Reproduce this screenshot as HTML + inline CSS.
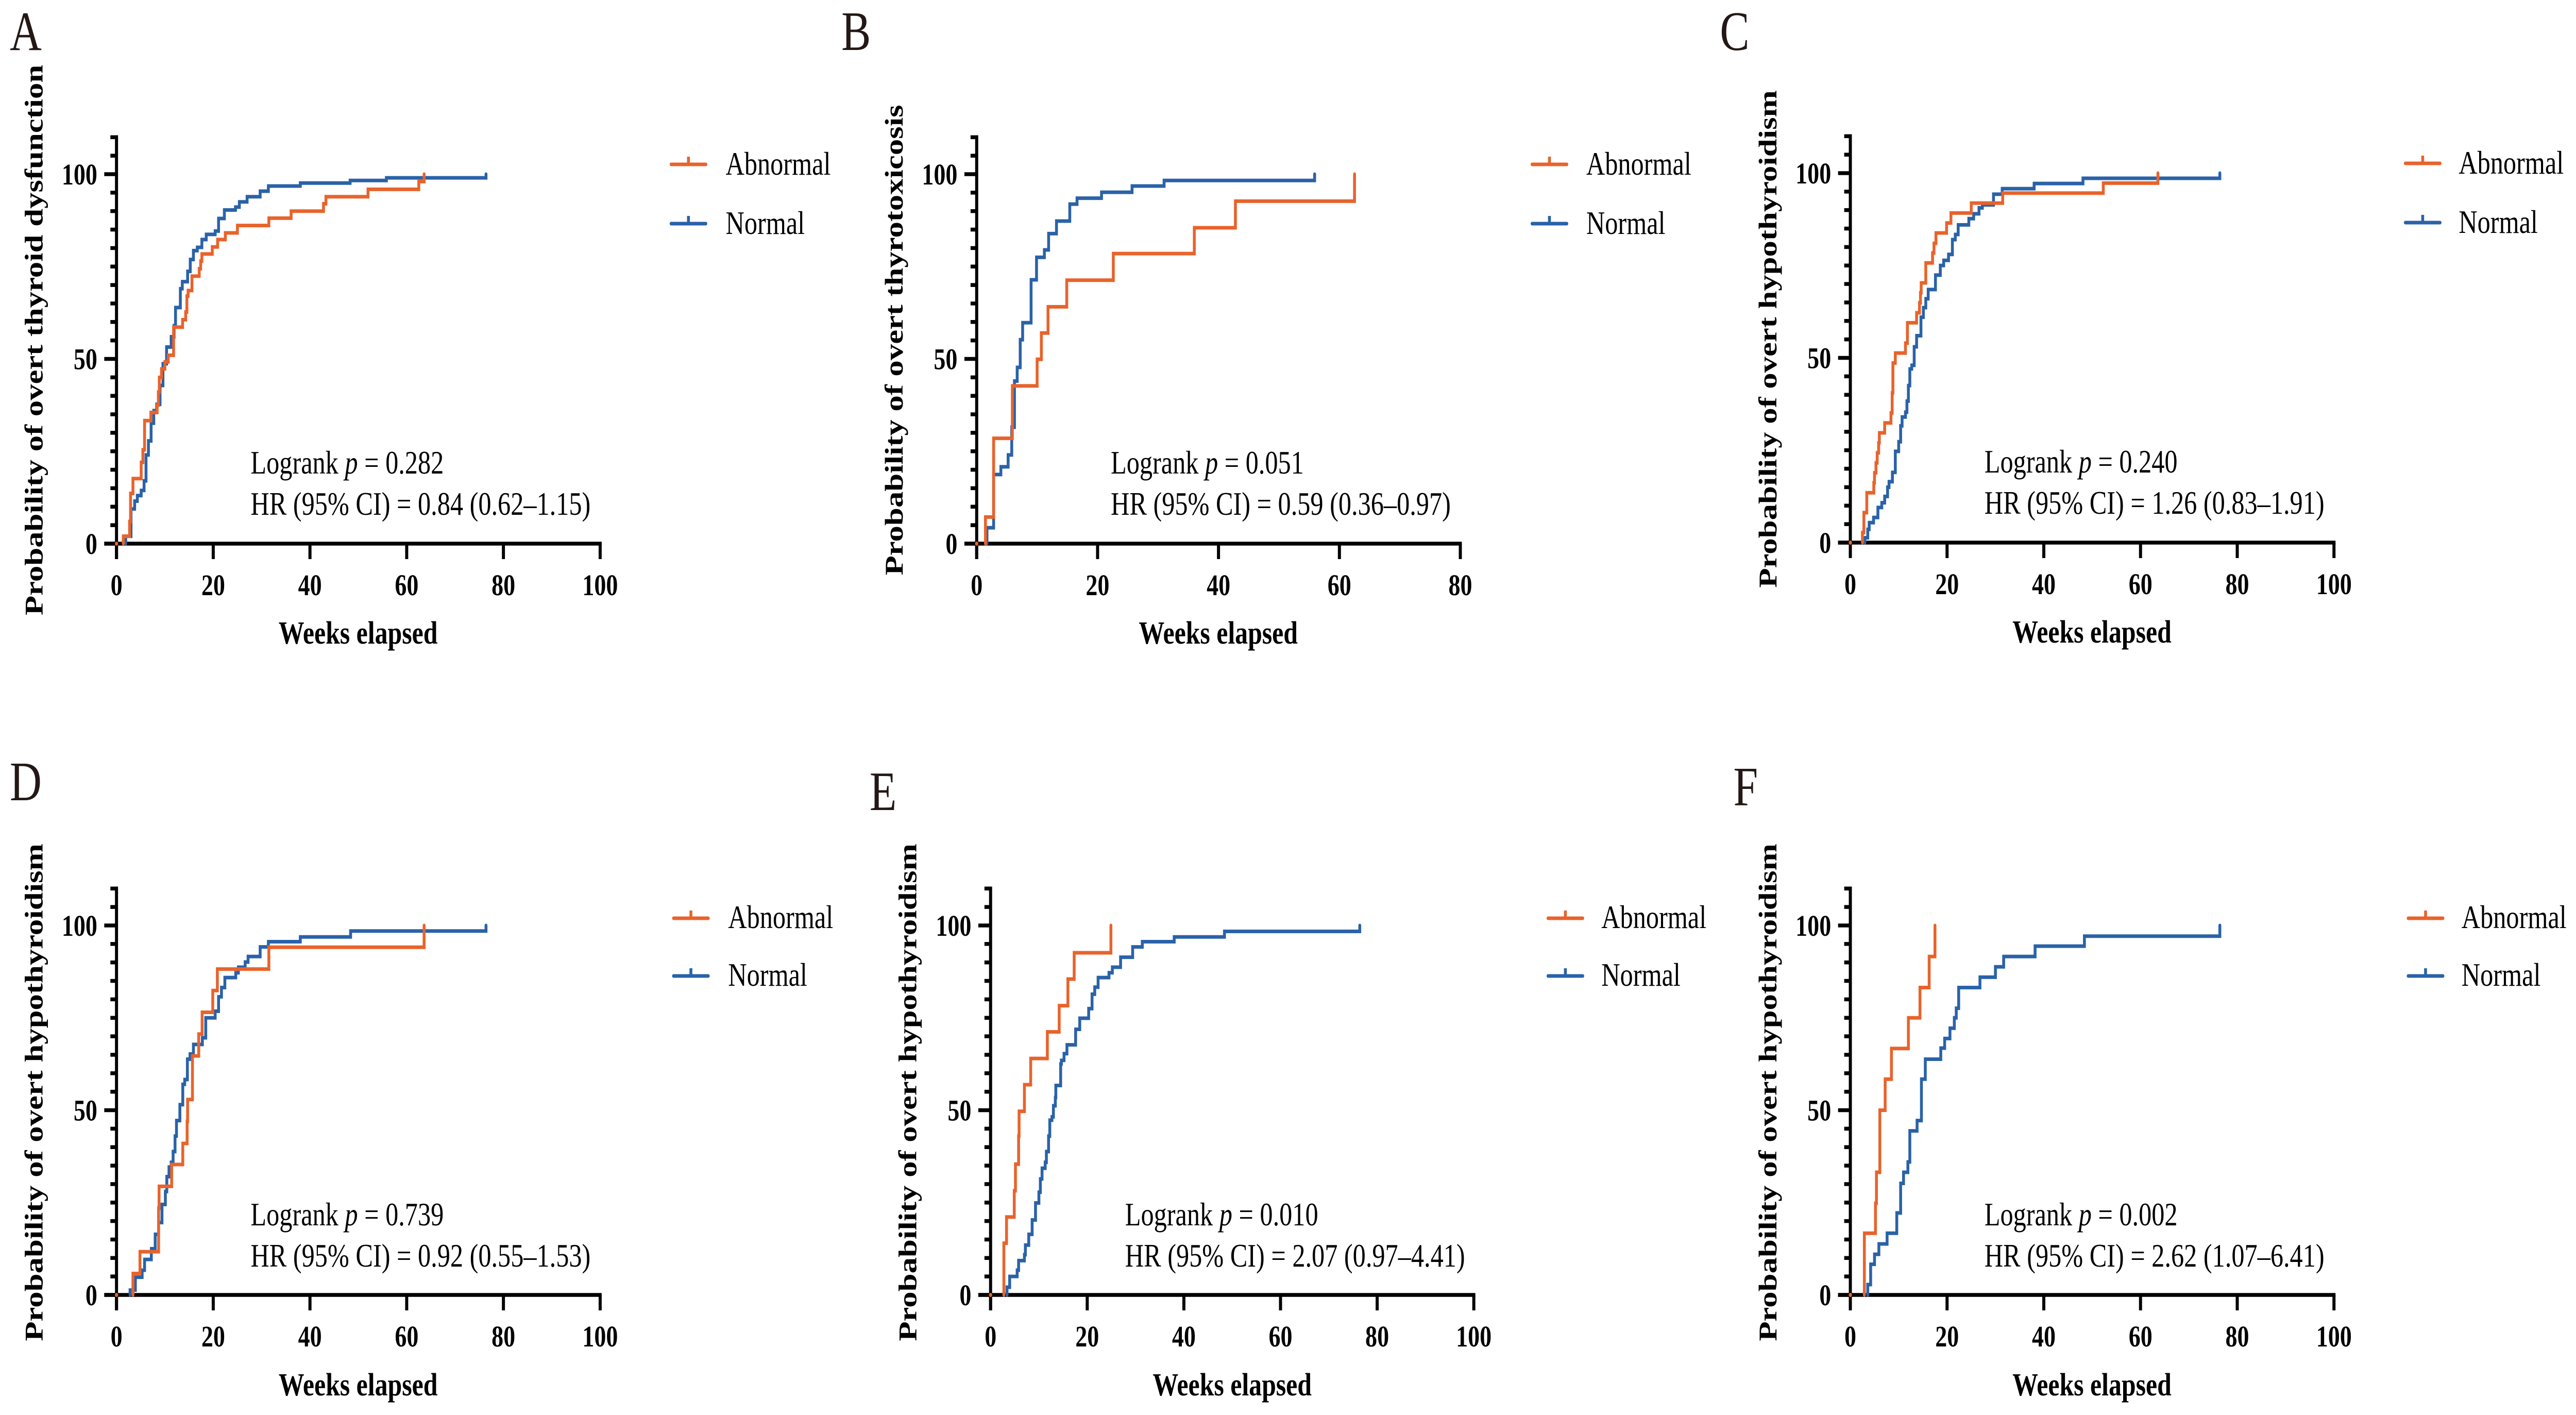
<!DOCTYPE html>
<html lang="en">
<head>
<meta charset="utf-8">
<title>Cumulative probability of overt thyroid dysfunction</title>
<style>
html,body{margin:0;padding:0;background:#fff;width:100%;height:100%;overflow:hidden;}
svg{display:block;width:100vw;height:100vh;}
text{font-family:"Liberation Serif","Noto Serif CJK SC",serif;fill:#000;}
.letter{font-size:108px;fill:#231815;}
.ytitle,.xtitle{font-size:62.8px;font-weight:bold;}
.note,.legtext{font-size:63.4px;}
.note tspan{font-style:italic;}
</style>
</head>
<body>
<svg id="figure" xmlns="http://www.w3.org/2000/svg" viewBox="0 0 6301 2746" preserveAspectRatio="none">
<rect width="6301" height="2746" fill="#fff"/>

<g id="panel-a">
<text class="letter" x="24" y="97">A</text>
<text class="ytitle" text-anchor="middle" transform="translate(104 660) rotate(-90)">Probability of overt thyroid dysfunction</text>
<text class="xtitle" text-anchor="middle" x="876" y="1249">Weeks elapsed</text>
<text class="note" x="613" y="919">Logrank <tspan>p</tspan> = 0.282</text>
<text class="note" x="613" y="999">HR (95% CI) = 0.84 (0.62–1.15)</text>
<text class="legtext" x="1775" y="339">Abnormal</text>
<text class="legtext" x="1775" y="454">Normal</text>
</g>

<g id="panel-b">
<text class="letter" x="2058" y="97">B</text>
<text class="ytitle" text-anchor="middle" transform="translate(2208 660) rotate(-90)">Probability of overt thyrotoxicosis</text>
<text class="xtitle" text-anchor="middle" x="2980" y="1249">Weeks elapsed</text>
<text class="note" x="2717" y="919">Logrank <tspan>p</tspan> = 0.051</text>
<text class="note" x="2717" y="999">HR (95% CI) = 0.59 (0.36–0.97)</text>
<text class="legtext" x="3880" y="339">Abnormal</text>
<text class="legtext" x="3880" y="454">Normal</text>
</g>

<g id="panel-c">
<text class="letter" x="4207" y="97">C</text>
<text class="ytitle" text-anchor="middle" transform="translate(4345 658) rotate(-90)">Probability of overt hypothyroidism</text>
<text class="xtitle" text-anchor="middle" x="5117" y="1247">Weeks elapsed</text>
<text class="note" x="4854" y="917">Logrank <tspan>p</tspan> = 0.240</text>
<text class="note" x="4854" y="997">HR (95% CI) = 1.26 (0.83–1.91)</text>
<text class="legtext" x="6014" y="337">Abnormal</text>
<text class="legtext" x="6014" y="452">Normal</text>
</g>

<g id="panel-d">
<text class="letter" x="24" y="1553">D</text>
<text class="ytitle" text-anchor="middle" transform="translate(104 2120) rotate(-90)">Probability of overt hypothyroidism</text>
<text class="xtitle" text-anchor="middle" x="876" y="2708">Weeks elapsed</text>
<text class="note" x="613" y="2378">Logrank <tspan>p</tspan> = 0.739</text>
<text class="note" x="613" y="2458">HR (95% CI) = 0.92 (0.55–1.53)</text>
<text class="legtext" x="1781" y="1801">Abnormal</text>
<text class="legtext" x="1781" y="1913">Normal</text>
</g>

<g id="panel-e">
<text class="letter" x="2127" y="1572">E</text>
<text class="ytitle" text-anchor="middle" transform="translate(2241 2120) rotate(-90)">Probability of overt hypothyroidism</text>
<text class="xtitle" text-anchor="middle" x="3014" y="2708">Weeks elapsed</text>
<text class="note" x="2752" y="2378">Logrank <tspan>p</tspan> = 0.010</text>
<text class="note" x="2752" y="2458">HR (95% CI) = 2.07 (0.97–4.41)</text>
<text class="legtext" x="3917" y="1801">Abnormal</text>
<text class="legtext" x="3917" y="1913">Normal</text>
</g>

<g id="panel-f">
<text class="letter" x="4240" y="1563">F</text>
<text class="ytitle" text-anchor="middle" transform="translate(4345 2120) rotate(-90)">Probability of overt hypothyroidism</text>
<text class="xtitle" text-anchor="middle" x="5117" y="2708">Weeks elapsed</text>
<text class="note" x="4854" y="2378">Logrank <tspan>p</tspan> = 0.002</text>
<text class="note" x="4854" y="2458">HR (95% CI) = 2.62 (1.07–6.41)</text>
<text class="legtext" x="6021" y="1801">Abnormal</text>
<text class="legtext" x="6021" y="1913">Normal</text>
</g>
</svg>

<script>
/* Tick labels */
const yTickLabels = [0, 50, 100];
const xTickLabels100 = [0, 20, 40, 60, 80, 100];
const xTickLabels80 = [0, 20, 40, 60, 80];

/* Panel A */
const aAbnormalWeeks = [0, 1.4, 2.7, 2.9, 3.4, 5.1, 5.45, 5.8, 7.1, 8.4, 8.65, 8.85, 9.3, 10, 10.7, 11.8, 13.66, 14.3, 14.55, 14.8, 15.6, 17.1, 17.4, 17.65, 19.8, 20.9, 22.5, 25, 31.5, 36.1, 42.8, 43.3, 52, 62.5, 63.6];
const aAbnormalProb = [0, 2, 6, 13.6, 17.6, 22, 25.4, 33.3, 35.5, 37.5, 41, 45, 47.3, 49.2, 51, 58.6, 60.6, 62.7, 67, 68.5, 72.4, 74.4, 76.5, 78.4, 80.3, 82.3, 84.1, 86.1, 88.1, 90, 92, 93.9, 95.9, 98, 100];
const aNormalWeeks = [0, 1.9, 3, 3.75, 4.3, 5.1, 5.7, 6.1, 6.6, 7.15, 7.7, 8.3, 9, 9.6, 10.35, 11.3, 11.9, 12.2, 13.2, 13.6, 14.7, 15.25, 15.9, 16.7, 17.65, 18.55, 20.4, 21.1, 22.3, 24.6, 25.4, 27, 29.7, 31.4, 38, 48.3, 55.8, 76.4];
const aNormalProb = [0, 2, 9.4, 11.5, 13, 14.4, 17, 24, 27.8, 32.6, 36, 37.7, 42.8, 48.7, 53.2, 56, 59, 63.9, 69, 70.9, 73.7, 76.9, 79.3, 80.2, 82.3, 83.7, 84.6, 88, 90.3, 91.1, 92.5, 93.9, 95.4, 96.8, 97.6, 98.3, 99, 100];

/* Panel B */
const bAbnormalWeeks = [0, 1.45, 2.8, 5.9, 10, 10.7, 11.8, 14.9, 22.6, 36, 42.8, 62.5];
const bAbnormalProb = [0, 7.2, 28.5, 42.7, 49.9, 57, 64.1, 71.3, 78.5, 85.5, 92.7, 100];
const bNormalWeeks = [0, 1.7, 2.8, 4, 5.2, 5.8, 6.25, 6.7, 7.2, 7.6, 9, 9.9, 11.2, 11.9, 13.2, 15.4, 16.6, 20.65, 25.7, 31, 55.9];
const bNormalProb = [0, 4.3, 18.7, 20.8, 24, 31.5, 44, 47.7, 55.2, 59.8, 71.4, 77.5, 79.5, 83.9, 87.3, 91.9, 93.5, 95.1, 96.8, 98.3, 100];

/* Panel C */
const cAbnormalWeeks = [0, 2.5, 2.8, 3.4, 4.85, 5, 5.3, 5.55, 5.85, 6, 7.1, 8.4, 8.65, 8.8, 9.3, 11.4, 11.8, 13.7, 14.3, 14.5, 14.65, 15.6, 17, 17.3, 17.7, 19.9, 20.8, 25, 31.5, 52.3, 63.6];
const cAbnormalProb = [0, 2.7, 8.1, 13.5, 16.2, 18.9, 21.6, 24.3, 27, 29.7, 32.4, 35.1, 40.5, 48.6, 51.3, 54, 59.5, 62.2, 64.9, 67.6, 70.3, 75.7, 78.4, 81, 83.8, 86.5, 89.2, 91.9, 94.6, 97.3, 100];
const cNormalWeeks = [0, 3, 3.6, 3.9, 4.8, 5.7, 6.5, 7.1, 7.7, 8, 8.7, 9.3, 10, 10.4, 10.7, 11.4, 11.7, 12, 12.3, 12.7, 13.2, 13.7, 14.6, 15.1, 15.6, 16.1, 17.6, 18.6, 19.3, 20.3, 21.1, 21.7, 22.3, 24.5, 25.5, 26.6, 27.3, 29.6, 31.4, 38, 48.1, 76.4];
const cNormalProb = [0, 1.3, 3.6, 5.4, 6.8, 9.5, 10.8, 12.5, 15, 16.5, 19, 24.7, 27.3, 31.6, 34, 35.3, 38.3, 42.5, 47, 48, 53, 56, 61, 63.6, 66, 68.5, 72.4, 75, 76.4, 78, 82, 83.4, 86, 87.7, 89, 90.6, 91.4, 94.3, 95.8, 97.2, 98.6, 100];

/* Panel D */
const dAbnormalWeeks = [0, 3.4, 4.85, 8.7, 8.8, 11.4, 13.7, 14.6, 14.7, 15.7, 17, 17.7, 19.9, 20.85, 31.5, 63.6];
const dAbnormalProb = [0, 5.8, 11.7, 23.5, 29.4, 35.3, 41, 47, 52.9, 64.7, 70.6, 76.5, 82.4, 88.2, 94.1, 100];
const dNormalWeeks = [0, 2.8, 3.9, 5.3, 5.8, 7.2, 8, 8.7, 9.4, 10.1, 10.4, 10.85, 11.3, 11.7, 12.1, 12.4, 13.1, 13.7, 14.1, 14.65, 15.2, 15.9, 17.75, 18.45, 20.4, 21.1, 21.7, 22.4, 24.65, 25.2, 26.6, 27.2, 29.7, 31.4, 38, 48.4, 76.4];
const dNormalProb = [0, 1.3, 4.8, 6.7, 9.6, 12.5, 16.4, 19.6, 24.5, 28, 32, 34.6, 35.9, 38.8, 43, 47.2, 51.5, 57, 58.3, 63.8, 65.2, 67.8, 69.6, 75, 76.8, 80.7, 83.2, 85.9, 87.2, 88.7, 90.1, 91.6, 94.2, 95.6, 96.9, 98.5, 100];

/* Panel E */
const eAbnormalWeeks = [0, 2.75, 3.3, 4.9, 5.15, 5.8, 5.9, 7, 8.3, 11.75, 14.2, 16, 17.3, 24.9];
const eAbnormalProb = [0, 14, 21.1, 28.2, 35.4, 43, 49.7, 56.9, 64, 71.2, 78.3, 85.5, 92.6, 100];
const eNormalWeeks = [0, 3.4, 3.95, 5.5, 5.8, 7, 7.2, 7.9, 8.6, 9.3, 10, 10.3, 10.65, 11.3, 11.55, 12, 12.25, 12.7, 13, 13.4, 13.5, 14.5, 14.65, 15.2, 15.8, 17.6, 18.45, 20.3, 21, 21.55, 22.25, 24.5, 25.2, 26.9, 29.4, 31.4, 38, 48.4, 76.4];
const eNormalProb = [0, 2.1, 5, 6.7, 9.3, 10.9, 13.5, 16.4, 20.3, 24.9, 27.8, 31.4, 34.3, 35.9, 38.8, 43, 47.3, 48.2, 51.2, 53.4, 56.7, 62.5, 63.5, 65.3, 67.7, 71.9, 74.9, 77.5, 81.4, 83.3, 85.9, 87.2, 88.7, 91.4, 94.2, 95.6, 96.9, 98.4, 100];

/* Panel F */
const fAbnormalWeeks = [0, 2.9, 5.2, 5.4, 6.1, 7.2, 8.5, 12, 14.4, 16.3, 17.5];
const fAbnormalProb = [0, 16.7, 24.8, 33.2, 50, 58.4, 66.7, 75, 83.2, 91.6, 100];
const fNormalWeeks = [0, 3.6, 4.2, 5, 5.9, 7.6, 9.6, 10.4, 11, 11.9, 12.3, 13.8, 14.7, 15.5, 18.7, 19.5, 20.6, 21.5, 21.9, 22.4, 26.8, 30, 31.7, 38.2, 48.4, 76.4];
const fNormalProb = [0, 2.8, 8.3, 11, 13.8, 16.7, 22.2, 30.2, 33.2, 36, 44.4, 47.2, 58.4, 63.8, 66.8, 69.4, 72.2, 75, 77.6, 83.2, 86, 88.8, 91.6, 94.4, 97.1, 100];

const SVG_NS = 'http://www.w3.org/2000/svg';
const ORANGE = '#E8632C';
const BLUE = '#2A62A8';
const AXIS_WIDTH = 7.5;
const CURVE_WIDTH = 7;
const PLOT_HEIGHT = 717;
const Y_MAX = 110;
const MINOR_STEP = 5;

function make(parent, tag, attrs) {
  const el = document.createElementNS(SVG_NS, tag);
  Object.keys(attrs).forEach(function (k) { el.setAttribute(k, attrs[k]); });
  parent.appendChild(el);
  return el;
}

function stepPoints(weeks, prob, xAxis, yAxis) {
  /* the flat run along the baseline before the first event is hidden by the axis */
  const pts = [];
  for (let i = 1; i < weeks.length; i++) {
    pts.push(xAxis(weeks[i]) + ',' + yAxis(prob[i - 1]));
    pts.push(xAxis(weeks[i]) + ',' + yAxis(prob[i]));
  }
  return pts.join(' ');
}

function drawPanel(id, box, xTicks, abnormal, normal, legend) {
  const root = document.getElementById(id);
  const xMax = xTicks[xTicks.length - 1];
  const xAxis = function (v) { return box.x0 + v / xMax * (box.x1 - box.x0); };
  const yAxis = function (v) { return box.y0 - v / 100 * PLOT_HEIGHT; };

  const yLine = make(root, 'line', { x1: box.x0, x2: box.x0, y1: yAxis(Y_MAX) - AXIS_WIDTH / 2, y2: box.y0 + 30, stroke: '#000', 'stroke-width': AXIS_WIDTH });
  
  

  const xLine = make(root, 'line', { x1: box.x0 - 30, x2: box.x1 + AXIS_WIDTH / 2, y1: box.y0, y2: box.y0, stroke: '#000', 'stroke-width': AXIS_WIDTH });
  
  

  for (let v = 0; v <= Y_MAX; v += MINOR_STEP) {
    const isMajor = yTickLabels.indexOf(v) >= 0;
    const tick = make(root, 'line', { x1: box.x0 - (isMajor ? 30 : 15), x2: box.x0, y1: yAxis(v), y2: yAxis(v), stroke: '#000', 'stroke-width': AXIS_WIDTH });
    
    
  }

  yTickLabels.forEach(function (v) {
    const label = make(root, 'text', { x: box.x0 - 47, y: yAxis(v) + 20, 'text-anchor': 'end', 'font-size': 58, 'font-weight': 'bold' });
    label.textContent = String(v);
    
    
  });

  xTicks.forEach(function (v) {
    const tick = make(root, 'line', { x1: xAxis(v), x2: xAxis(v), y1: box.y0, y2: box.y0 + 30, stroke: '#000', 'stroke-width': AXIS_WIDTH });
    
    
    const label = make(root, 'text', { x: xAxis(v), y: box.y0 + 100, 'text-anchor': 'middle', 'font-size': 58, 'font-weight': 'bold' });
    label.textContent = String(v);
    
    
  });

  const normalCurve = make(root, 'polyline', { points: stepPoints(normal[0], normal[1], xAxis, yAxis), fill: 'none', stroke: BLUE, 'stroke-width': CURVE_WIDTH, 'stroke-linejoin': 'miter', 'stroke-linecap': 'round' });
  
  

  const abnormalCurve = make(root, 'polyline', { points: stepPoints(abnormal[0], abnormal[1], xAxis, yAxis), fill: 'none', stroke: ORANGE, 'stroke-width': CURVE_WIDTH, 'stroke-linejoin': 'miter', 'stroke-linecap': 'round' });
  
  

  const originDot = make(root, 'circle', { cx: xAxis(abnormal[0][0]), cy: yAxis(abnormal[1][0]), r: 4, fill: ORANGE });
  
  

  const legendLineA = make(root, 'line', { x1: legend.x + 3.5, x2: legend.x + 88.5, y1: legend.y1, y2: legend.y1, stroke: ORANGE, 'stroke-width': CURVE_WIDTH, 'stroke-linecap': 'round' });
  
  

  const legendTickA = make(root, 'line', { x1: legend.x + 46, x2: legend.x + 46, y1: legend.y1 - 15, y2: legend.y1, stroke: ORANGE, 'stroke-width': CURVE_WIDTH });
  
  

  const legendLineN = make(root, 'line', { x1: legend.x + 3.5, x2: legend.x + 88.5, y1: legend.y2, y2: legend.y2, stroke: BLUE, 'stroke-width': CURVE_WIDTH, 'stroke-linecap': 'round' });
  
  

  const legendTickN = make(root, 'line', { x1: legend.x + 46, x2: legend.x + 46, y1: legend.y2 - 15, y2: legend.y2, stroke: BLUE, 'stroke-width': CURVE_WIDTH });
  
  
}

drawPanel('panel-a', { x0: 285, x1: 1468, y0: 1055 }, xTickLabels100, [aAbnormalWeeks, aAbnormalProb], [aNormalWeeks, aNormalProb], { x: 1638, y1: 319, y2: 434 });
drawPanel('panel-b', { x0: 2389, x1: 3572, y0: 1055 }, xTickLabels80, [bAbnormalWeeks, bAbnormalProb], [bNormalWeeks, bNormalProb], { x: 3744, y1: 319, y2: 434 });
drawPanel('panel-c', { x0: 4526, x1: 5709, y0: 1053 }, xTickLabels100, [cAbnormalWeeks, cAbnormalProb], [cNormalWeeks, cNormalProb], { x: 5880, y1: 317, y2: 432 });
drawPanel('panel-d', { x0: 285, x1: 1468, y0: 2513 }, xTickLabels100, [dAbnormalWeeks, dAbnormalProb], [dNormalWeeks, dNormalProb], { x: 1644, y1: 1782, y2: 1894 });
drawPanel('panel-e', { x0: 2423, x1: 3605, y0: 2513 }, xTickLabels100, [eAbnormalWeeks, eAbnormalProb], [eNormalWeeks, eNormalProb], { x: 3783, y1: 1782, y2: 1894 });
drawPanel('panel-f', { x0: 4526, x1: 5709, y0: 2513 }, xTickLabels100, [fAbnormalWeeks, fAbnormalProb], [fNormalWeeks, fNormalProb], { x: 5887, y1: 1782, y2: 1894 });
</script>
</body>
</html>
